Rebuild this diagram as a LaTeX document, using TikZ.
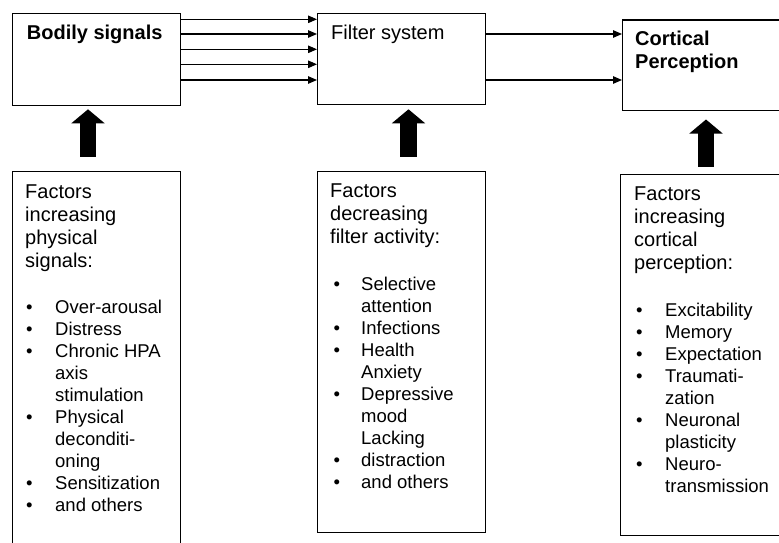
\documentclass[tikz,border=0pt]{standalone}
\usepackage{fontspec}
\setmainfont{Liberation Sans}
\usetikzlibrary{arrows.meta}
\newcommand\bw{29pt}
\newcommand\bul{\makebox[\bw][l]{•}}
\newcommand\nob{\hspace*{\bw}}
\begin{document}
\begin{tikzpicture}[x=1pt,y=-1pt,
  box/.style={draw, line width=1.3pt, inner sep=0, minimum width=168pt, anchor=north west},
  hd/.style={inner sep=0, anchor=base west, font=\fontsize{20}{23}\selectfont},
  ls/.style={inner sep=0, anchor=base west, font=\fontsize{18.5}{22}\selectfont},
  sig/.style={line width=1.1pt, -{Triangle[length=9pt,width=7.5pt]}},
  fat/.style={line width=16.7pt, -{Triangle[width=32.6pt,length=14pt]}}]
\useasboundingbox (0,0) rectangle (779,543);
\clip (0,0) rectangle (779,543);
% upper boxes
\node[box, minimum height=92pt] (b1) at (12,13) {};
\node[box, minimum height=91pt] (b2) at (317,13) {};
\node[box, minimum height=90.7pt] (b3) at (622,19.3) {};
% lower boxes
\node[box, minimum height=390pt] (l1) at (12,171) {};
\node[box, minimum height=361pt] (l2) at (317,171) {};
\node[box, minimum height=361.5pt] (l3) at (620,173.5) {};
% titles
\node[hd] (t1) at (26.7,39.3) {\bfseries Bodily signals};
\node[hd] (t2) at (331,39.3) {Filter system};
\node[hd] (t3) at (635,45.7) {\bfseries\begin{tabular}[t]{@{}l@{}}Cortical\\Perception\end{tabular}};
% signal arrows
\foreach \y in {19.3,34,49.3,64.3,80}
  \draw[sig] (b1.east |- 0,\y) -- (b2.west |- 0,\y);
\foreach \y in {34,80}
  \draw[sig] (b2.east |- 0,\y) -- (b3.west |- 0,\y);
% thick arrows
\coordinate (a1b) at (88,156.7);  \coordinate (a1t) at (88,109.3);
\coordinate (a2b) at (408.5,156.7); \coordinate (a2t) at (408.5,109.3);
\coordinate (a3b) at (706,166.7); \coordinate (a3t) at (706,119.5);
\draw[fat] (a1b) -- (a1t);
\draw[fat] (a2b) -- (a2t);
\draw[fat] (a3b) -- (a3t);
% box 1 text
\node[hd] (h1) at (25,198) {\begin{tabular}[t]{@{}l@{}}Factors\\increasing\\physical\\signals:\end{tabular}};
\node[ls] (i1) at (26,313) {\renewcommand\bw{29pt}\begin{tabular}[t]{@{}l@{}}
\bul Over-arousal\\ \bul Distress\\ \bul Chronic HPA\\ \nob axis\\ \nob stimulation\\
\bul Physical\\ \nob deconditi-\\ \nob oning\\ \bul Sensitization\\ \bul and others\end{tabular}};
% box 2 text
\node[hd] (h2) at (330,197.5) {\begin{tabular}[t]{@{}l@{}}Factors\\decreasing\\filter activity:\end{tabular}};
\node[ls] (i2) at (333.5,290) {\renewcommand\bw{27.5pt}\begin{tabular}[t]{@{}l@{}}
\bul Selective\\ \nob attention\\ \bul Infections\\ \bul Health\\ \nob Anxiety\\
\bul Depressive\\ \nob mood\\ \nob Lacking\\ \bul distraction\\ \bul and others\end{tabular}};
% box 3 text
\node[hd] (h3) at (634,200.7) {\begin{tabular}[t]{@{}l@{}}Factors\\increasing\\cortical\\perception:\end{tabular}};
\node[ls] (i3) at (635.8,316.7) {\renewcommand\bw{29.2pt}\begin{tabular}[t]{@{}l@{}}
\bul Excitability\\ \bul Memory\\ \bul Expectation\\ \bul Traumati-\\ \nob zation\\
\bul Neuronal\\ \nob plasticity\\ \bul Neuro-\\ \nob transmission\end{tabular}};
\end{tikzpicture}
\end{document}
